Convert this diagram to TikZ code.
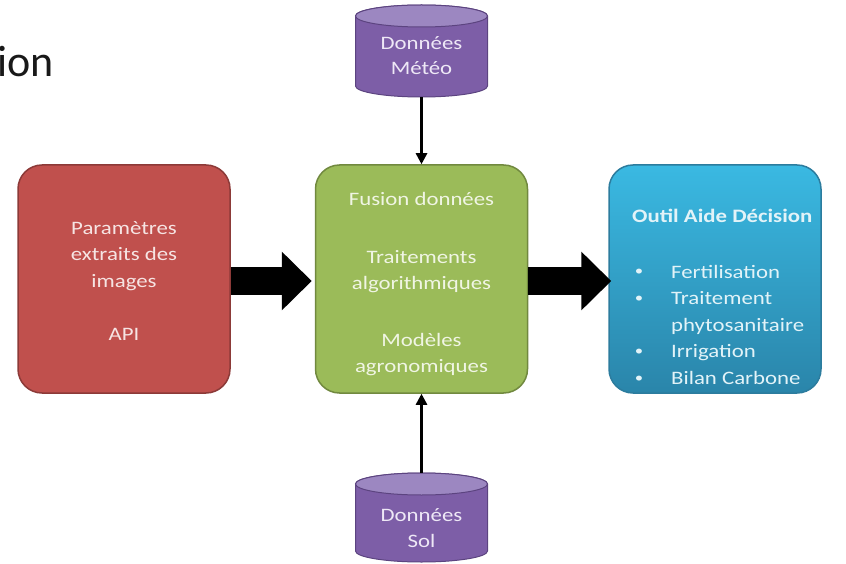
\documentclass[tikz,border=0pt]{standalone}
\usepackage{fontspec}
\setmainfont{Carlito}
\newfontfamily\boxfont[FakeStretch=1.2]{Carlito}
\usetikzlibrary{arrows.meta}
\definecolor{redfill}{HTML}{C0504D}
\definecolor{redline}{HTML}{8C3A38}
\definecolor{greenfill}{HTML}{9BBB59}
\definecolor{greenline}{HTML}{71893F}
\definecolor{bluetop}{HTML}{3AB9E2}
\definecolor{bluebot}{HTML}{2A85AA}
\definecolor{blueline}{HTML}{2C7C9E}
\definecolor{purplebody}{HTML}{7D5EA7}
\definecolor{purpletop}{HTML}{9C87C1}
\definecolor{purpleline}{HTML}{5C4480}
\definecolor{redtext}{HTML}{F6E4E3}
\definecolor{greentext}{HTML}{F0F5E4}
\definecolor{bluetext}{HTML}{E2F3F8}
\definecolor{purpletext}{HTML}{EEE8F6}
\tikzset{
  mainbox/.style={rounded corners=24pt, minimum width=212pt, minimum height=228pt, line width=1.5pt, inner sep=0pt},
  redbox/.style={mainbox, fill=redfill, draw=redline},
  greenbox/.style={mainbox, fill=greenfill, draw=greenline},
  bluebox/.style={mainbox, top color=bluetop, bottom color=bluebot, draw=blueline},
  txt/.style={anchor=base, inner sep=0pt, font=\boxfont\fontsize{19}{22}\selectfont},
  ltxt/.style={txt, anchor=base west},
  dot/.style={anchor=base, inner sep=0pt, font=\boxfont\fontsize{14}{16}\selectfont},
  bigarrow/.style={line width=28pt, -{Triangle[length=30pt, width=57pt]}},
  thinarrow/.style={line width=2.5pt, -{Triangle[length=11pt, width=11pt]}},
  cylarea/.style={minimum width=134pt, minimum height=92pt, inner sep=0pt},
}
\begin{document}
\begin{tikzpicture}[x=1pt, y=-1pt]
\useasboundingbox (0,0) rectangle (846,564);

% title fragment (cut at the left edge as in the reference)
\node[anchor=base west, inner sep=0pt, font=\fontsize{44}{50}\selectfont, text=black!90] (title) at (-3,77) {ion};

% main boxes
\node[redbox] (red) at (124,279) {};
\node[greenbox] (green) at (421.5,279) {};
\node[bluebox] (blue) at (715,279) {};

% red text
\node[txt, text=redtext] (r1) at (124,234) {Paramètres};
\node[txt, text=redtext] (r2) at (124,260) {extraits des};
\node[txt, text=redtext] (r3) at (124,287) {images};
\node[txt, text=redtext] (r4) at (124,340) {API};

% green text
\node[txt, text=greentext] (g1) at (421.5,206) {Fusion données};
\node[txt, text=greentext] (g2) at (421.5,263) {Traitements};
\node[txt, text=greentext] (g3) at (421.5,289) {algorithmiques};
\node[txt, text=greentext] (g4) at (421.5,346) {Modèles};
\node[txt, text=greentext] (g5) at (421.5,372) {agronomiques};

% blue text
\node[ltxt, text=bluetext, font=\boxfont\bfseries\fontsize{19}{22}\selectfont] (b0) at (632,223) {Outil Aide Décision};
\node[dot, text=bluetext] (d1) at (639,276) {•};
\node[dot, text=bluetext] (d2) at (639,302.5) {•};
\node[dot, text=bluetext] (d4) at (639,355.5) {•};
\node[dot, text=bluetext] (d5) at (639,382) {•};
\node[ltxt, text=bluetext] (b1) at (671,278) {Fertilisation};
\node[ltxt, text=bluetext] (b2) at (671,304.5) {Traitement};
\node[ltxt, text=bluetext] (b3) at (671,331) {phytosanitaire};
\node[ltxt, text=bluetext] (b4) at (671,357.5) {Irrigation};
\node[ltxt, text=bluetext] (b5) at (671,384) {Bilan Carbone};

% top cylinder
\filldraw[fill=purplebody, draw=purpleline, line width=1pt]
  (355.5,16) -- (355.5,86) arc[start angle=180, end angle=0, x radius=66, y radius=11]
  -- (487.5,16) arc[start angle=0, end angle=-180, x radius=66, y radius=11] -- cycle;
\filldraw[fill=purpletop, draw=purpleline, line width=1pt] (421.5,16) ellipse[x radius=66, y radius=11];
\node[cylarea] (meteo) at (421.5,51) {};
\node[txt, text=purpletext] (m1) at (421.5,50) {Données};
\node[txt, text=purpletext] (m2) at (421.5,75) {Météo};

% bottom cylinder
\filldraw[fill=purplebody, draw=purpleline, line width=1pt]
  (355.5,484) -- (355.5,551) arc[start angle=180, end angle=0, x radius=66, y radius=11]
  -- (487.5,484) arc[start angle=0, end angle=-180, x radius=66, y radius=11] -- cycle;
\filldraw[fill=purpletop, draw=purpleline, line width=1pt] (421.5,484) ellipse[x radius=66, y radius=11];
\node[cylarea, minimum height=89pt] (sol) at (421.5,517.5) {};
\node[txt, text=purpletext] (s1) at (421.5,521) {Données};
\node[txt, text=purpletext] (s2) at (421.5,547) {Sol};

% connectors
\draw[bigarrow] ([yshift=-2pt]red.east) -- ([xshift=-3pt,yshift=-2pt]green.west);
\draw[bigarrow] ([yshift=-2pt]green.east) -- ([xshift=3pt,yshift=-2pt]blue.west);
\draw[thinarrow] (meteo.south) -- (green.north);
\draw[thinarrow] (sol.north) -- (green.south);
\end{tikzpicture}
\end{document}
